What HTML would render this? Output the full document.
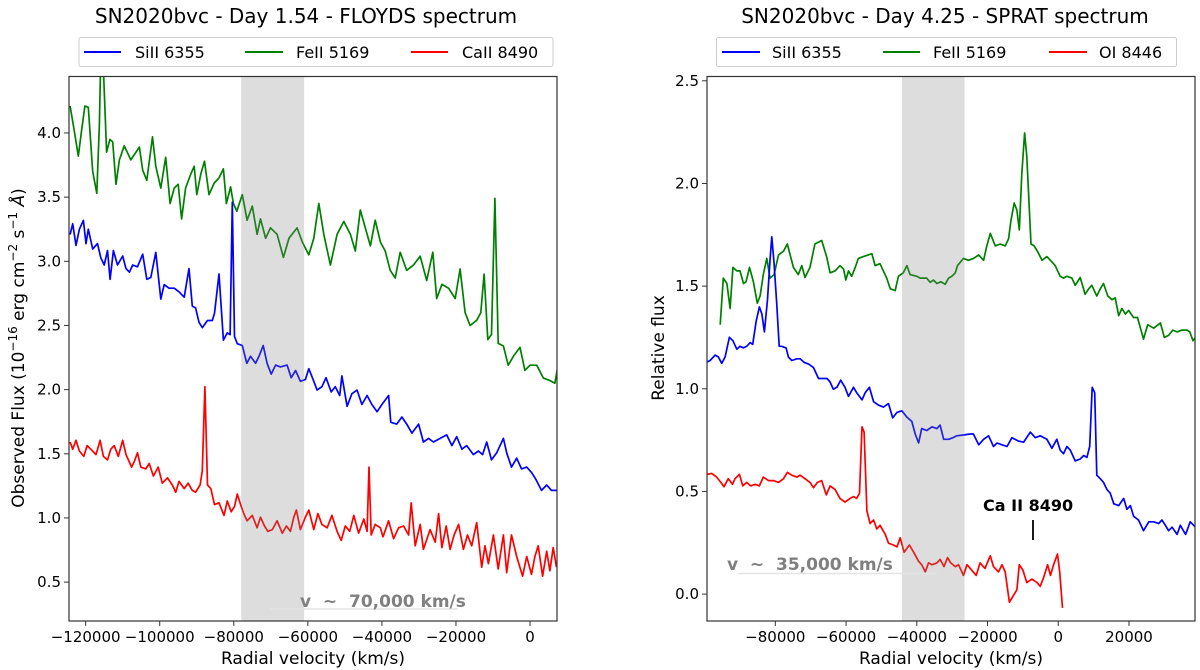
<!DOCTYPE html>
<html><head><meta charset="utf-8"><style>
html,body{margin:0;padding:0;background:#fff;}
svg{display:block;font-family:"DejaVu Sans","Liberation Sans",sans-serif;}
</style></head><body>
<svg id="fig" width="1200" height="670" viewBox="0 0 1200 670">
<text x="306" y="23" font-size="20" text-anchor="middle">SN2020bvc - Day 1.54 - FLOYDS spectrum</text>
<text x="945" y="23" font-size="20" text-anchor="middle">SN2020bvc - Day 4.25 - SPRAT spectrum</text>
<g>
<rect x="79" y="37.5" width="474" height="29" fill="#fff" stroke="#ccc" rx="2"/>
<line x1="84" x2="121" y1="52" y2="52" stroke="#0000ff" stroke-width="2"/><text x="135" y="58" font-size="16">SiII 6355</text>
<line x1="245" x2="283" y1="52" y2="52" stroke="#008000" stroke-width="2"/><text x="296" y="58" font-size="16">FeII 5169</text>
<line x1="411" x2="448" y1="52" y2="52" stroke="#ff0000" stroke-width="2"/><text x="462" y="58" font-size="16">CaII 8490</text>
</g>
<g>
<rect x="716.5" y="37.5" width="460" height="29" fill="#fff" stroke="#ccc" rx="2"/>
<line x1="722" x2="760" y1="52" y2="52" stroke="#0000ff" stroke-width="2"/><text x="772" y="58" font-size="16">SiII 6355</text>
<line x1="883" x2="920" y1="52" y2="52" stroke="#008000" stroke-width="2"/><text x="933" y="58" font-size="16">FeII 5169</text>
<line x1="1049" x2="1087" y1="52" y2="52" stroke="#ff0000" stroke-width="2"/><text x="1099" y="58" font-size="16">OI 8446</text>
</g>
<g id="left"></g>
<g id="right"></g>
</svg>
<script>
// ---- Left panel data (velocity in km/s x1000, flux) ----
const L_green_v=[-124.2,-123.1,-122.0,-121.1,-120.2,-119.3,-118.1,-117.0,-116.3,-115.9,-115.2,-114.35,-113.45,-112.7,-111.8,-110.9,-109.6,-107.8,-105.5,-104.6,-103.5,-101.95,-101.06,-99.7,-98.4,-97.2,-96.1,-95.0,-94.1,-93.0,-91.6,-90.7,-90.0,-88.9,-87.9,-86.7,-85.3,-84.0,-82.8,-82.0,-80.85,-80.1,-79.2,-77.7,-76.4,-75.0,-73.7,-72.8,-71.4,-70.1,-68.3,-66.6,-65.1,-62.9,-61.5,-59.75,-58.4,-57.05,-55.7,-53.9,-52.1,-50.3,-48.5,-47.2,-45.85,-44.5,-43.1,-41.8,-40.4,-39.1,-37.75,-36.4,-35.05,-33.3,-31.5,-29.65,-27.9,-26.25,-25.2,-23.8,-22.0,-20.2,-18.9,-17.55,-16.2,-14.4,-13.3,-12.4,-11.4,-10.4,-9.5,-8.6,-7.2,-5.9,-4.5,-2.7,-1.4,0.0,1.8,3.6,5.4,6.7,7.3];
const L_green_f=[4.21,4.02,3.82,4.02,4.21,4.20,3.70,3.53,4.07,4.6,4.5,3.85,3.95,3.93,3.60,3.79,3.9,3.79,3.89,3.71,3.63,3.97,3.74,3.57,3.81,3.45,3.57,3.6,3.33,3.57,3.68,3.74,3.52,3.68,3.78,3.52,3.61,3.65,3.72,3.45,3.58,3.45,3.39,3.52,3.32,3.43,3.21,3.33,3.18,3.26,3.21,3.03,3.18,3.26,3.15,3.05,3.18,3.45,3.21,2.97,3.21,3.31,3.21,3.08,3.40,3.26,3.12,3.32,3.15,3.08,2.93,2.87,3.07,2.93,2.97,3.04,2.85,3.07,2.71,2.82,2.79,2.71,2.94,2.60,2.50,2.54,2.60,2.90,2.39,2.43,3.49,2.36,2.34,2.19,2.26,2.33,2.15,2.19,2.19,2.09,2.07,2.05,2.15];
const L_blue_v=[-124.2,-123.5,-122.6,-121.7,-120.6,-119.9,-119.3,-118.1,-116.8,-115.9,-115.0,-114.1,-113.4,-112.5,-111.4,-110.0,-109.1,-108.2,-107.3,-106.0,-104.6,-103.5,-102.4,-101.05,-99.7,-98.8,-97.5,-96.1,-94.8,-93.4,-92.1,-91.2,-90.3,-89.4,-88.5,-87.1,-85.8,-85.2,-84.0,-82.8,-81.75,-81.0,-80.4,-79.8,-79.05,-77.7,-76.5,-75.5,-74.1,-73.2,-72.05,-71.0,-69.9,-68.7,-67.4,-65.6,-64.5,-63.3,-62.0,-60.65,-59.75,-58.4,-57.5,-56.2,-55.1,-53.7,-52.6,-51.4,-50.8,-49.4,-48.1,-46.7,-45.4,-44.0,-42.7,-41.3,-40.0,-38.2,-37.6,-36.0,-34.6,-33.3,-31.9,-30.1,-28.8,-27.4,-26.1,-24.3,-22.5,-21.1,-19.8,-18.4,-17.1,-15.3,-13.95,-12.8,-11.7,-10.4,-9.0,-7.2,-6.3,-5.0,-3.6,-2.3,-0.9,0.4,1.6,3.1,4.5,5.8,7.15];
const L_blue_f=[3.208,3.292,3.124,3.25,3.319,3.138,3.25,3.096,3.138,3.027,2.971,3.083,2.86,3.083,2.971,3.041,2.943,2.915,2.971,2.957,3.055,2.86,2.874,3.069,2.706,2.818,2.79,2.79,2.762,2.72,2.943,2.651,2.637,2.525,2.483,2.539,2.539,2.595,2.901,2.386,2.442,2.428,3.459,2.414,2.358,2.344,2.205,2.26,2.205,2.26,2.344,2.205,2.121,2.191,2.177,2.191,2.093,2.149,2.065,2.079,2.163,2.065,1.996,2.023,2.093,1.982,2.023,1.954,2.107,1.87,1.968,1.996,1.884,1.954,1.884,1.828,1.884,1.954,1.745,1.731,1.787,1.731,1.661,1.731,1.592,1.62,1.592,1.62,1.647,1.564,1.633,1.536,1.564,1.494,1.522,1.494,1.592,1.452,1.508,1.62,1.508,1.396,1.466,1.382,1.396,1.355,1.299,1.215,1.257,1.215,1.215];
const L_red_v=[-124.2,-123.5,-122.6,-121.7,-120.5,-119.6,-118.6,-117.2,-116.1,-115.2,-114.1,-113.2,-112.3,-111.2,-110.0,-109.1,-107.6,-106.9,-106.0,-105.1,-103.75,-102.85,-101.7,-100.4,-99.3,-97.9,-96.6,-95.7,-94.8,-93.4,-92.35,-91.2,-90.3,-89.1,-88.5,-87.8,-87.1,-86.2,-85.2,-84.0,-82.65,-81.75,-80.7,-79.8,-79.05,-78.15,-77.3,-76.4,-75.0,-73.7,-72.8,-71.7,-70.8,-69.6,-68.3,-66.9,-65.8,-64.7,-63.8,-63.1,-62.0,-60.65,-59.75,-58.4,-57.3,-56.2,-54.8,-53.5,-52.1,-51.0,-49.9,-48.7,-47.6,-46.3,-44.9,-44.0,-43.5,-42.9,-41.8,-40.4,-39.7,-38.2,-36.85,-35.5,-34.15,-32.8,-32.1,-31.0,-29.65,-28.8,-27.0,-25.6,-24.7,-23.8,-22.65,-21.6,-20.5,-19.3,-18.0,-16.9,-15.75,-14.4,-13.05,-12.15,-11.25,-9.9,-8.6,-7.2,-6.3,-5.0,-3.6,-2.0,-0.9,0.4,1.3,2.2,3.4,4.5,5.35,6.25,7.15];
const L_red_f=[1.592,1.536,1.605,1.522,1.48,1.564,1.536,1.494,1.605,1.48,1.452,1.536,1.564,1.48,1.605,1.494,1.396,1.438,1.508,1.396,1.382,1.424,1.327,1.396,1.271,1.313,1.257,1.201,1.285,1.229,1.271,1.215,1.201,1.257,1.368,2.023,1.257,1.229,1.104,1.118,1.020,1.132,1.048,1.090,1.187,1.104,1.034,0.978,1.020,0.923,1.006,0.937,0.895,0.909,0.978,0.881,0.937,0.895,1.006,1.062,0.909,1.006,1.062,0.909,1.034,0.95,0.923,1.020,0.895,0.825,0.937,0.895,1.020,0.881,0.992,0.895,1.396,0.867,0.95,0.923,0.853,0.978,0.839,0.923,0.937,0.867,1.118,0.783,0.95,0.755,0.909,0.811,1.034,0.769,0.937,0.755,0.867,0.95,0.755,0.867,0.783,0.964,0.616,0.783,0.644,0.867,0.602,0.867,0.574,0.867,0.7,0.546,0.7,0.56,0.7,0.783,0.546,0.741,0.588,0.769,0.616];
// ---- Right panel data ----
const R_green_v=[-95.6,-94.7,-93.7,-92.8,-92.0,-90.9,-90.0,-89.0,-88.3,-87.3,-86.2,-85.1,-84.3,-83.4,-82.4,-81.5,-80.35,-79.1,-77.7,-76.6,-74.9,-73.5,-72.5,-71.6,-70.2,-68.8,-66.9,-65.5,-64.5,-63.1,-61.7,-60.7,-60.06,-59.3,-58.4,-57.4,-56.5,-55.1,-52.7,-51.8,-50.4,-48.5,-47.5,-46.1,-45.2,-43.8,-42.8,-41.9,-40.0,-39.0,-37.2,-36.2,-35.3,-34.3,-33.2,-31.97,-31.0,-30.1,-29.1,-28.5,-26.8,-25.4,-23.95,-22.5,-21.1,-20.2,-19.2,-17.8,-16.4,-15.0,-14.05,-13.4,-12.45,-11.7,-11.0,-10.3,-9.5,-8.9,-7.7,-6.8,-5.6,-4.6,-3.2,-1.8,-0.85,0.56,1.5,2.45,3.86,4.8,6.2,7.6,8.6,9.5,10.9,11.9,12.8,14.0,15.2,16.1,17.1,18.0,19.0,19.9,21.3,22.4,24.1,25.3,27.0,28.9,30.0,31.2,32.4,33.6,35.0,36.4,37.2,38.1,38.8];
const R_green_f=[1.312,1.539,1.513,1.391,1.591,1.574,1.574,1.513,1.521,1.591,1.521,1.417,1.452,1.556,1.635,1.539,1.556,1.652,1.670,1.705,1.591,1.556,1.600,1.542,1.591,1.705,1.722,1.644,1.565,1.574,1.600,1.583,1.530,1.574,1.548,1.591,1.635,1.644,1.658,1.600,1.609,1.539,1.487,1.478,1.548,1.565,1.600,1.556,1.548,1.539,1.539,1.518,1.530,1.513,1.521,1.509,1.539,1.548,1.565,1.600,1.635,1.626,1.635,1.652,1.626,1.696,1.757,1.696,1.705,1.696,1.731,1.818,1.905,1.87,1.774,2.045,2.246,2.132,1.705,1.696,1.661,1.626,1.644,1.618,1.600,1.548,1.539,1.548,1.539,1.504,1.542,1.46,1.487,1.504,1.452,1.487,1.513,1.452,1.434,1.443,1.356,1.391,1.364,1.382,1.347,1.347,1.242,1.312,1.295,1.321,1.251,1.26,1.286,1.277,1.286,1.286,1.277,1.234,1.251];
const R_blue_v=[-99.4,-98.45,-97.0,-96.1,-95.15,-94.2,-93.0,-92.0,-90.9,-90.0,-89.0,-88.1,-87.1,-86.4,-85.4,-84.5,-83.8,-83.1,-82.2,-81.5,-81.0,-80.35,-79.6,-78.9,-78.2,-76.95,-76.3,-75.35,-73.9,-73.0,-71.9,-70.6,-69.2,-67.8,-66.4,-65.4,-64.5,-63.6,-62.6,-61.5,-60.3,-59.3,-57.9,-57.0,-55.5,-54.6,-53.4,-52.2,-50.8,-49.4,-48.0,-46.8,-45.6,-44.2,-42.8,-41.4,-40.45,-39.5,-38.6,-37.2,-35.7,-34.3,-33.4,-32.4,-31.0,-29.8,-28.7,-26.8,-24.9,-24.0,-22.5,-21.1,-19.7,-18.3,-17.3,-15.9,-14.5,-13.1,-11.2,-9.8,-7.9,-6.5,-5.1,-3.2,-1.8,-0.4,0.56,1.5,2.45,3.4,4.8,6.2,7.2,8.1,8.9,9.6,10.3,10.9,11.9,12.8,13.8,14.7,15.7,17.1,18.5,19.4,20.4,21.3,22.7,24.1,25.6,27.0,28.4,29.3,30.3,31.2,32.2,33.6,34.5,36.0,37.3,38.8];
const R_blue_f=[1.129,1.138,1.164,1.155,1.124,1.155,1.251,1.234,1.193,1.207,1.199,1.207,1.225,1.216,1.330,1.399,1.364,1.277,1.434,1.626,1.740,1.609,1.417,1.207,1.207,1.199,1.155,1.138,1.146,1.146,1.129,1.120,1.103,1.050,1.050,1.050,1.033,0.998,1.007,1.042,1.007,0.963,1.007,0.981,0.946,0.981,1.007,0.937,0.920,0.911,0.928,0.858,0.885,0.893,0.862,0.841,0.780,0.736,0.806,0.797,0.815,0.806,0.823,0.754,0.754,0.762,0.771,0.775,0.780,0.780,0.727,0.754,0.771,0.719,0.736,0.727,0.719,0.762,0.745,0.740,0.789,0.762,0.771,0.754,0.710,0.754,0.701,0.684,0.719,0.701,0.649,0.658,0.675,0.666,0.719,1.007,0.981,0.579,0.562,0.544,0.509,0.492,0.440,0.431,0.466,0.413,0.431,0.379,0.361,0.309,0.352,0.352,0.344,0.361,0.335,0.309,0.326,0.291,0.335,0.291,0.352,0.326];
const R_red_v=[-99.4,-98.0,-96.6,-95.4,-94.5,-93.3,-92.1,-91.4,-90.15,-89.2,-88.1,-86.95,-85.7,-84.5,-83.4,-81.95,-80.5,-79.1,-77.7,-76.6,-75.35,-73.9,-73.0,-71.6,-70.2,-69.2,-68.1,-66.9,-65.6,-64.5,-63.1,-61.7,-60.3,-58.85,-57.9,-57.0,-56.2,-55.5,-54.9,-54.1,-53.2,-52.2,-51.3,-50.4,-48.9,-48.0,-46.6,-45.6,-44.7,-43.6,-42.1,-40.9,-39.5,-38.6,-37.6,-36.7,-35.7,-34.3,-33.4,-32.3,-31.3,-30.4,-29.1,-28.2,-26.8,-25.8,-24.9,-23.2,-22.1,-20.7,-19.2,-18.3,-16.9,-15.9,-15.0,-13.8,-12.6,-11.7,-11.0,-10.0,-8.9,-7.45,-6.0,-5.1,-4.1,-3.0,-2.2,-1.3,-0.2,0.4,1.2];
const R_red_f=[0.583,0.588,0.570,0.544,0.523,0.562,0.535,0.562,0.583,0.527,0.544,0.527,0.535,0.527,0.570,0.553,0.553,0.544,0.562,0.593,0.579,0.570,0.579,0.562,0.544,0.518,0.544,0.553,0.483,0.527,0.509,0.466,0.448,0.466,0.475,0.466,0.492,0.815,0.789,0.405,0.344,0.361,0.317,0.335,0.291,0.248,0.239,0.230,0.274,0.204,0.239,0.204,0.160,0.143,0.108,0.152,0.143,0.152,0.169,0.134,0.178,0.152,0.134,0.143,0.091,0.143,0.125,0.091,0.152,0.125,0.187,0.134,0.108,0.143,0.108,-0.040,-0.005,0.021,0.143,0.117,0.056,0.073,0.056,0.038,0.082,0.143,0.091,0.143,0.195,0.108,-0.067];
// ticks
const L_xticks=[-120000,-100000,-80000,-60000,-40000,-20000,0];
const L_yticks=[0.5,1.0,1.5,2.0,2.5,3.0,3.5,4.0];
const R_xticks=[-80000,-60000,-40000,-20000,0,20000];
const R_yticks=[0.0,0.5,1.0,1.5,2.0,2.5];
const L_band=[-78000,-61000];
const R_band=[-44200,-26500];

const NS='http://www.w3.org/2000/svg';
function mk(parent,tag,attrs){const e=document.createElementNS(NS,tag);for(const k in attrs)e.setAttribute(k,attrs[k]);parent.appendChild(e);return e;}
function fmtX(v){return v<0?'\u2212'+Math.abs(v):String(v);}

function panel(gid,box,xr,yr,series,xt,yt,band,ylab,clipId){
  const g=document.getElementById(gid);
  const X=v=>box.l+(v-xr[0])/(xr[1]-xr[0])*(box.r-box.l);
  const Y=f=>box.b-(f-yr[0])/(yr[1]-yr[0])*(box.b-box.t);
  const defs=mk(g,'defs',{});
  const cp=mk(defs,'clipPath',{id:clipId});
  mk(cp,'rect',{x:box.l,y:box.t,width:box.r-box.l,height:box.b-box.t});
  const sg=mk(g,'g',{'clip-path':'url(#'+clipId+')'});
  series.forEach(s=>{
    let d='';
    for(let i=0;i<s.v.length;i++){d+=(i?'L':'M')+X(s.v[i]*1000).toFixed(1)+','+Y(s.f[i]).toFixed(1);}
    const p=mk(sg,'path',{d:d,fill:'none',stroke:s.c,'stroke-width':1.7,'stroke-linejoin':'round'});
    
    
  });
  const br=mk(sg,'rect',{x:X(band[0]),y:box.t,width:X(band[1])-X(band[0]),height:box.b-box.t,fill:'rgba(128,128,128,0.27)'});
  
  
  const fr=mk(g,'rect',{x:box.l,y:box.t,width:box.r-box.l,height:box.b-box.t,fill:'none',stroke:'#333','stroke-width':1.2});
  
  
  xt.forEach(v=>{const x=X(v);mk(g,'line',{x1:x,x2:x,y1:box.b,y2:box.b+5,stroke:'#333','stroke-width':1});
    const t=mk(g,'text',{x:x,y:box.b+21,'font-size':15,'text-anchor':'middle'});t.textContent=fmtX(v);
    
    });
  yt.forEach(v=>{const y=Y(v);mk(g,'line',{x1:box.l-5,x2:box.l,y1:y,y2:y,stroke:'#333','stroke-width':1});
    const t=mk(g,'text',{x:box.l-8,y:y+5,'font-size':15,'text-anchor':'end'});t.textContent=v.toFixed(1);
    
    });
  const xl=mk(g,'text',{x:(box.l+box.r)/2,y:664,'font-size':17,'text-anchor':'middle'});xl.textContent='Radial velocity (km/s)';
  
  
  return {X,Y,g};
}
const L=panel('left',{l:69,r:557,t:76.5,b:621},[-124500,7280],[0.197,4.44],
 [{v:L_green_v,f:L_green_f,c:'#008000',name:'feii-5169-line'},{v:L_blue_v,f:L_blue_f,c:'#0000ff',name:'siii-6355-line'},{v:L_red_v,f:L_red_f,c:'#ff0000',name:'caii-8490-line'}],
 L_xticks,L_yticks,L_band,'','clipL');
const R=panel('right',{l:707,r:1195,t:76.5,b:621},[-99320,38670],[-0.131,2.521],
 [{v:R_green_v,f:R_green_f,c:'#008000',name:'feii-5169-line'},{v:R_blue_v,f:R_blue_f,c:'#0000ff',name:'siii-6355-line'},{v:R_red_v,f:R_red_f,c:'#ff0000',name:'oi-8446-line'}],
 R_xticks,R_yticks,R_band,'','clipR');
// y axis titles
const yl1=mk(L.g,'text',{x:0,y:0,'font-size':17,'text-anchor':'middle',transform:'translate(24,348) rotate(-90)'});
yl1.innerHTML='Observed Flux (10<tspan dy="-7" font-size="12">\u221216</tspan><tspan dy="7"> erg cm</tspan><tspan dy="-7" font-size="12">\u22122</tspan><tspan dy="7"> s</tspan><tspan dy="-7" font-size="12">\u22121</tspan><tspan dy="7"> </tspan><tspan font-style="italic">\u00c5</tspan>)';


const yl2=mk(R.g,'text',{x:0,y:0,'font-size':17,'text-anchor':'middle',transform:'translate(664,348) rotate(-90)'});
yl2.textContent='Relative flux';


// annotations
mk(L.g,'line',{x1:270,x2:458,y1:609,y2:609,stroke:'#e4e4e4','stroke-width':1.5});
const a1=mk(L.g,'text',{x:300,y:607,'font-size':17,'font-weight':'bold',fill:'#808080'});a1.textContent='v\u00a0\u00a0~\u00a0\u00a070,000 km/s';


mk(R.g,'line',{x1:738,x2:937,y1:573.5,y2:573.5,stroke:'#e4e4e4','stroke-width':1.5});
const a2=mk(R.g,'text',{x:727,y:570,'font-size':17,'font-weight':'bold',fill:'#808080'});a2.textContent='v\u00a0\u00a0~\u00a0\u00a035,000 km/s';


const a3=mk(R.g,'text',{x:983,y:511,'font-size':16,'font-weight':'bold',fill:'#000'});a3.textContent='Ca II 8490';


mk(R.g,'line',{x1:1033,x2:1033,y1:520,y2:540,stroke:'#000','stroke-width':1.8});
</script>
</body></html>
